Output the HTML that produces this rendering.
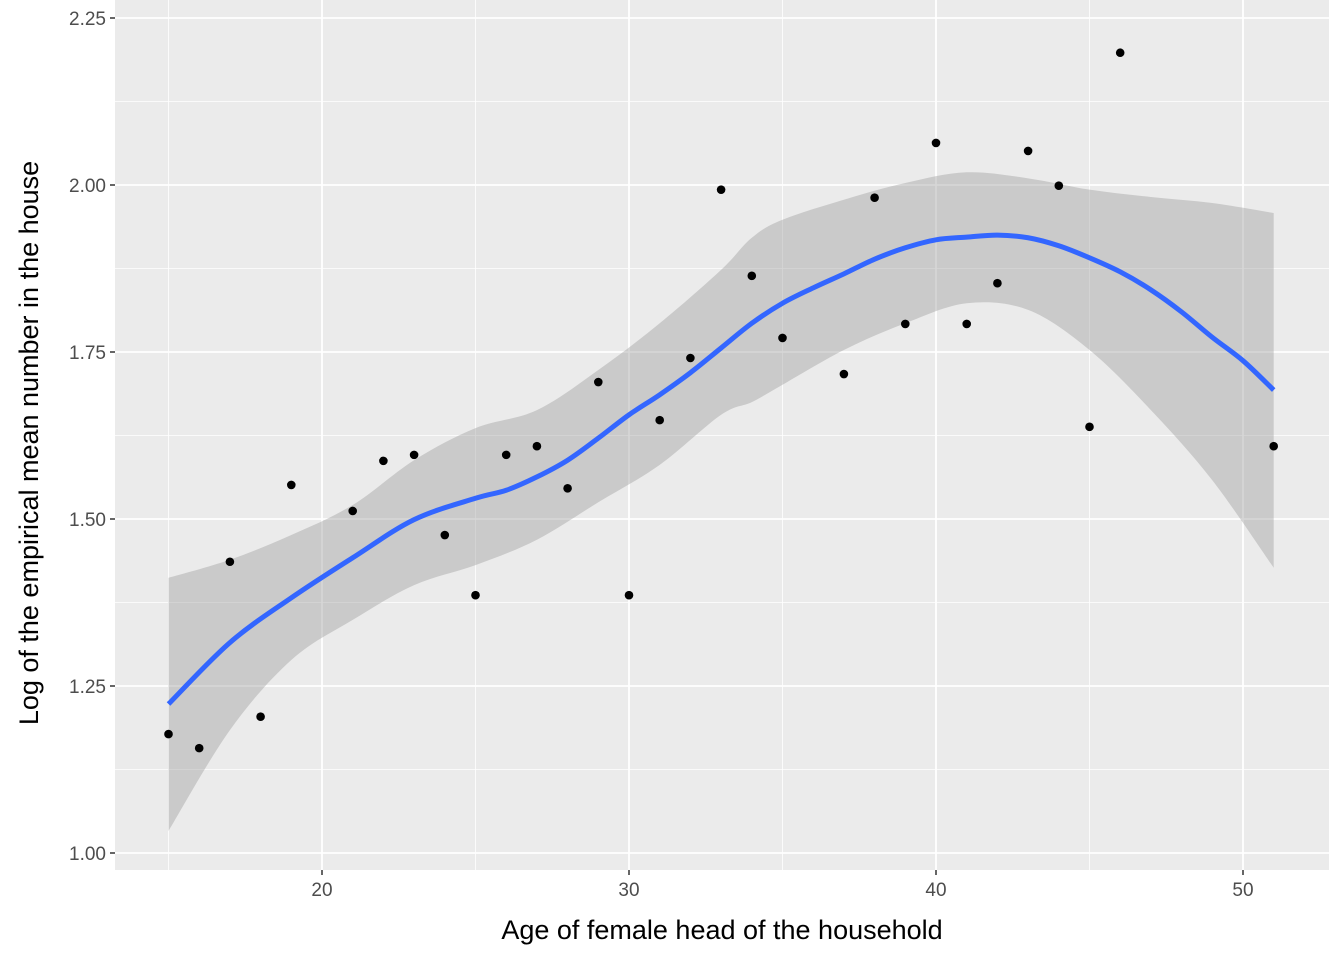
<!DOCTYPE html>
<html><head><meta charset="utf-8"><style>
body{margin:0;background:#fff;}
svg{display:block;font-family:"Liberation Sans",sans-serif;}
</style></head><body>
<svg id="chart" width="1344" height="960"></svg>
<script>
const ages=[15,16,17,18,19,21,22,23,24,25,26,27,28,29,30,31,32,33,34,35,37,38,39,40,41,42,43,44,45,46,51];
const logMeans=[1.178,1.157,1.436,1.204,1.551,1.512,1.587,1.596,1.476,1.386,1.596,1.609,1.546,1.705,1.386,1.648,1.741,1.993,1.864,1.771,1.717,1.981,1.792,2.063,1.792,1.853,2.051,1.999,1.638,2.198,1.609];
const smoothX=[15,17,19,21,23,25,26,27,28,29,30,31,32,33,34,35,36,37,38,39,40,41,42,43,44,45,46,47,48,49,50,51];
const smoothY=[1.223,1.315,1.382,1.442,1.499,1.531,1.543,1.563,1.588,1.621,1.656,1.686,1.719,1.756,1.793,1.823,1.846,1.867,1.889,1.906,1.918,1.922,1.925,1.921,1.909,1.891,1.870,1.843,1.810,1.772,1.737,1.693];
const bandX=[15,17,19,21,23,25,27,29,31,33,34,35,37,39,41,43,45,47,49,51];
const bandUpper=[1.412,1.439,1.476,1.521,1.588,1.636,1.663,1.723,1.793,1.873,1.921,1.948,1.978,2.003,2.019,2.010,1.993,1.982,1.973,1.958];
const bandLower=[1.033,1.184,1.289,1.349,1.401,1.431,1.469,1.525,1.581,1.656,1.675,1.701,1.753,1.793,1.823,1.813,1.753,1.663,1.558,1.427];
const xTicks=[20,30,40,50];
const yTicks=[1.00,1.25,1.50,1.75,2.00,2.25];

const NS="http://www.w3.org/2000/svg";
const svg=document.getElementById('chart');
const PL=115,PR=1329,PT=0,PB=870;
const sx=v=>322+(v-20)*30.7;
const sy=v=>853-(v-1)*668;
function mk(t,a,p){const e=document.createElementNS(NS,t);for(const k in a)e.setAttribute(k,a[k]);(p||svg).appendChild(e);return e;}
function smoothPath(pts,start){
 let d=start?('M'+pts[0][0]+','+pts[0][1]):('L'+pts[0][0]+','+pts[0][1]);
 for(let i=0;i<pts.length-1;i++){
  const p0=pts[Math.max(0,i-1)],p1=pts[i],p2=pts[i+1],p3=pts[Math.min(pts.length-1,i+2)];
  const c1=[p1[0]+(p2[0]-p0[0])/6,p1[1]+(p2[1]-p0[1])/6];
  const c2=[p2[0]-(p3[0]-p1[0])/6,p2[1]-(p3[1]-p1[1])/6];
  d+='C'+c1[0]+','+c1[1]+' '+c2[0]+','+c2[1]+' '+p2[0]+','+p2[1];
 }
 return d;
}

const panel=mk('rect',{x:PL,y:PT,width:PR-PL,height:PB-PT,fill:'#EBEBEB'});


for(let i=0;i<yTicks.length-1;i++){const v=(yTicks[i]+yTicks[i+1])/2;const l=mk('line',{x1:PL,x2:PR,y1:sy(v),y2:sy(v),stroke:'#fff','stroke-width':0.8});

}
for(const v of [15,25,35,45]){const l=mk('line',{x1:sx(v),x2:sx(v),y1:PT,y2:PB,stroke:'#fff','stroke-width':0.8});

}
yTicks.forEach(v=>{
 const l=mk('line',{x1:PL,x2:PR,y1:sy(v),y2:sy(v),stroke:'#fff','stroke-width':1.8});
 
 
 mk('line',{x1:PL-5,x2:PL,y1:sy(v),y2:sy(v),stroke:'#333','stroke-width':1.5});
 const t=mk('text',{x:PL-9,y:sy(v)+7,'text-anchor':'end','font-size':19,fill:'#4D4D4D'});t.textContent=v.toFixed(2);
 
 
});
xTicks.forEach(v=>{
 const l=mk('line',{x1:sx(v),x2:sx(v),y1:PT,y2:PB,stroke:'#fff','stroke-width':1.8});
 
 
 mk('line',{x1:sx(v),x2:sx(v),y1:PB,y2:PB+5,stroke:'#333','stroke-width':1.5});
 const t=mk('text',{x:sx(v),y:PB+26,'text-anchor':'middle','font-size':19,fill:'#4D4D4D'});t.textContent=v;
 
 
});
const up=bandX.map((x,i)=>[sx(x),sy(bandUpper[i])]);
const lo=bandX.map((x,i)=>[sx(x),sy(bandLower[i])]).reverse();
const band=mk('path',{d:smoothPath(up,true)+smoothPath(lo,false)+'Z',fill:'#999',opacity:0.4});


ages.forEach((a,i)=>{const c=mk('circle',{cx:sx(a),cy:sy(logMeans[i]),r:4.3,fill:'#000'});

});
const sp=smoothX.map((x,i)=>[sx(x),sy(smoothY[i])]);
const line=mk('path',{d:smoothPath(sp,true),fill:'none',stroke:'#3366FF','stroke-width':5,'stroke-linejoin':'round'});


const xt=mk('text',{x:(PL+PR)/2,y:939,'text-anchor':'middle','font-size':27,fill:'#000'});xt.textContent='Age of female head of the household';


const yt=mk('text',{x:0,y:0,'text-anchor':'middle','font-size':27,fill:'#000',transform:'translate(38,443) rotate(-90)'});yt.textContent='Log of the empirical mean number in the house';


</script>
</body></html>
